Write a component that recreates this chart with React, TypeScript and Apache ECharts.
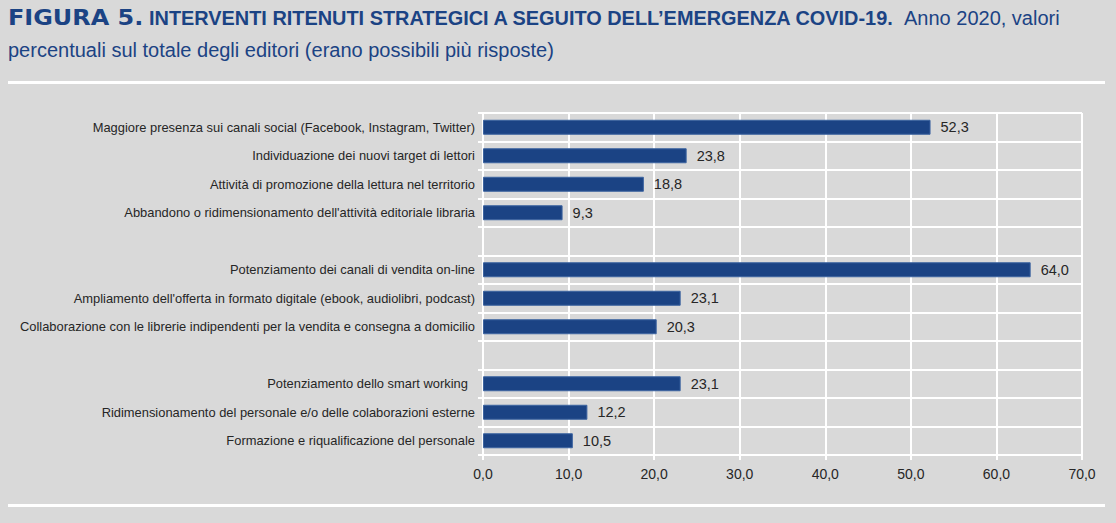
import React, { useEffect, useRef } from "react";
import * as echarts from "echarts";

const categories: string[] = [
  "Maggiore presenza sui canali social (Facebook, Instagram, Twitter)",
  "Individuazione dei nuovi target di lettori",
  "Attività di promozione della lettura nel territorio",
  "Abbandono o ridimensionamento dell'attività editoriale libraria",
  " ",
  "Potenziamento dei canali di vendita on-line",
  "Ampliamento dell'offerta in formato digitale (ebook, audiolibri, podcast)",
  "Collaborazione con le librerie indipendenti per la vendita e consegna a domicilio",
  "  ",
  "Potenziamento dello smart working  ",
  "Ridimensionamento del personale e/o delle colaborazioni esterne",
  "Formazione e riqualificazione del personale",
];

const values: (number | null)[] = [52.3, 23.8, 18.8, 9.3, null, 64.0, 23.1, 20.3, null, 23.1, 12.2, 10.5];

const axisMin = 0;
const axisMax = 70;
const axisStep = 10;

const titleBold = "FIGURA 5.";
const titleMain = "INTERVENTI RITENUTI STRATEGICI A SEGUITO DELL\u2019EMERGENZA COVID-19.";
const titleTail = "Anno 2020, valori";
const titleLine2 = "percentuali sul totale degli editori (erano possibili più risposte)";

const BLUE = "#1b4384";
const BG = "#d9d9d9";
const FONT = "'Liberation Sans', Arial, sans-serif";

export default function App() {
  const ref = useRef<HTMLDivElement>(null);
  useEffect(() => {
    if (!ref.current) return;
    const chart = echarts.init(ref.current, undefined, { renderer: "svg" });
    chart.setOption({
      animation: false,
      backgroundColor: BG,
      graphic: [
        {
          type: "text",
          x: 8,
          y: 7,
          scaleX: 1.14,
          style: { text: titleBold, fontFamily: "'DejaVu Sans', sans-serif", fontWeight: "bold", fontSize: 21, fill: BLUE },
        },
        {
          type: "text",
          x: 149,
          y: 8,
          style: { text: titleMain, fontFamily: FONT, fontWeight: "bold", fontSize: 19.9, fill: BLUE },
        },
        {
          type: "text",
          x: 904,
          y: 8,
          style: { text: titleTail, fontFamily: FONT, fontSize: 20, fill: BLUE },
        },
        {
          type: "text",
          x: 8,
          y: 40,
          style: { text: titleLine2, fontFamily: FONT, fontSize: 20, fill: BLUE },
        },
        { type: "rect", shape: { x: 8, y: 81, width: 1097, height: 3 }, style: { fill: "#ffffff" } },
        { type: "rect", shape: { x: 8, y: 504, width: 1097, height: 3 }, style: { fill: "#ffffff" } },
      ],
      grid: { left: 483, right: 34, top: 113, height: 342, outerBoundsMode: "none", containLabel: false },
      xAxis: {
        type: "value",
        min: axisMin,
        max: axisMax,
        interval: axisStep,
        axisLine: { show: true, lineStyle: { color: "#ffffff", width: 2 } },
        axisTick: { show: true, length: 5, lineStyle: { color: "#ffffff", width: 2 } },
        splitLine: { show: true, lineStyle: { color: "#ffffff", width: 2 } },
        axisLabel: {
          margin: 12,
          color: "#262626",
          fontFamily: FONT,
          fontSize: 14,
          formatter: (v: number) => v.toFixed(1).replace(".", ","),
        },
      },
      yAxis: {
        type: "category",
        inverse: true,
        data: categories,
        axisLine: { show: true, lineStyle: { color: "#ffffff", width: 2 } },
        axisTick: { show: true, length: 5, lineStyle: { color: "#ffffff", width: 2 } },
        splitLine: { show: true, lineStyle: { color: "#ffffff", width: 2 } },
        axisLabel: {
          margin: 8,
          color: "#262626",
          fontFamily: FONT,
          fontSize: 12.9,
        },
      },
      series: [
        {
          type: "bar",
          data: values,
          barWidth: 15,
          itemStyle: { color: BLUE, borderColor: "#3d64a0", borderWidth: 1 },
          label: {
            show: true,
            position: "right",
            distance: 10,
            color: "#262626",
            fontFamily: FONT,
            fontSize: 14.5,
            formatter: (p: any) => (p.value == null ? "" : Number(p.value).toFixed(1).replace(".", ",")),
          },
        },
      ],
    });
    return () => chart.dispose();
  }, []);
  return <div ref={ref} style={{ position: "fixed", left: 0, top: 0, width: 1116, height: 523 }} />;
}
